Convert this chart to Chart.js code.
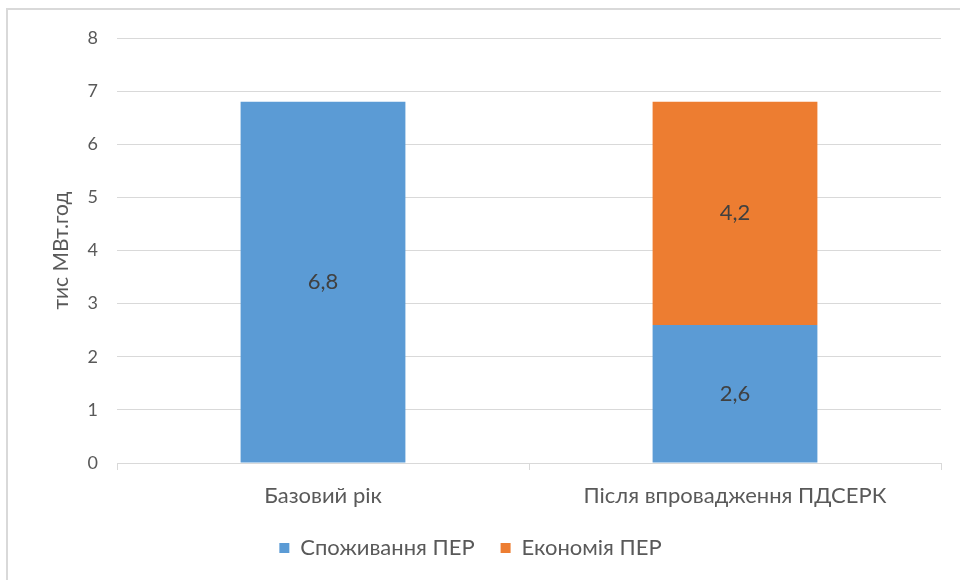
<!DOCTYPE html>
<html>
<head>
<meta charset="utf-8">
<script src="https://cdn.jsdelivr.net/npm/chart.js@4.4.1/dist/chart.umd.min.js"></script>
<style>
  html, body { margin: 0; padding: 0; background: #fff; width: 960px; height: 580px; overflow: hidden; }
  #frame { position: absolute; left: 6px; top: 8px; width: 1000px; height: 1000px;
           border-left: 2px solid #d9d9d9; border-top: 2px solid #d9d9d9; }
  #wrap { position: absolute; left: 0; top: 0; width: 960px; height: 580px; }
</style>
</head>
<body>
<div id="frame"></div>
<div id="wrap"><canvas id="c" width="960" height="580"></canvas></div>
<script>
const categories = ["Базовий рік", "Після впровадження ПДСЕРК"];
const consumption = [6.8, 2.6];   // Споживання ПЕР
const savings = [null, 4.2];      // Економія ПЕР
const yTicks = [0, 1, 2, 3, 4, 5, 6, 7, 8];

const FONT = "Lato, 'Open Sans', sans-serif";
const TEXT = "#595959";

const fmt = v => String(v).replace(".", ",");

// Value labels centred inside each bar segment
const valueLabels = {
  id: "valueLabels",
  afterDatasetsDraw(chart) {
    const ctx = chart.ctx;
    ctx.save();
    ctx.font = "22px " + FONT;
    ctx.fillStyle = "#404040";
    ctx.textAlign = "center";
    ctx.textBaseline = "middle";
    chart.data.datasets.forEach((ds, i) => {
      const meta = chart.getDatasetMeta(i);
      meta.data.forEach((bar, j) => {
        const v = ds.data[j];
        if (v === null || v === undefined) return;
        const { x, y, base } = bar.getProps(["x", "y", "base"], true);
        ctx.fillText(fmt(v), x, (y + base) / 2);
      });
    });
    ctx.restore();
  }
};

new Chart(document.getElementById("c"), {
  type: "bar",
  data: {
    labels: categories,
    datasets: [
      { label: "Споживання ПЕР", data: consumption, backgroundColor: "#5B9BD5",
        barPercentage: 0.4, categoryPercentage: 1.0 },
      { label: "Економія ПЕР", data: savings, backgroundColor: "#ED7D31",
        barPercentage: 0.4, categoryPercentage: 1.0 }
    ]
  },
  options: {
    responsive: false,
    animation: false,
    layout: { padding: { top: 38, right: 19, bottom: 11, left: 0 } },
    plugins: {
      tooltip: { enabled: false },
      title: { display: false },
      legend: {
        position: "bottom",
        labels: {
          font: { family: FONT, size: 22 },
          color: TEXT,
          boxWidth: 10,
          boxHeight: 10,
          padding: 26
        }
      }
    },
    scales: {
      x: {
        stacked: true,
        grid: { display: true, drawOnChartArea: false, drawTicks: true, tickLength: 7,
                color: "#d9d9d9", offset: true },
        border: { display: true, color: "#d9d9d9", width: 1 },
        ticks: { font: { family: FONT, size: 22 }, color: TEXT, padding: 13 },
        afterFit(scale) { scale.height = 48; }
      },
      y: {
        stacked: true,
        min: 0,
        max: 8,
        afterBuildTicks(scale) { scale.ticks = yTicks.map(v => ({ value: v })); },
        grid: { color: "#d9d9d9", drawTicks: false },
        border: { display: false },
        ticks: { font: { family: FONT, size: 18 }, color: TEXT, padding: 19 },
        title: { display: true, text: "тис МВт.год", font: { family: FONT, size: 21 },
                 color: TEXT, padding: { top: 49, bottom: 0 } },
        afterFit(scale) { scale.width = 117; }
      }
    }
  },
  plugins: [valueLabels]
});
</script>
</body>
</html>
